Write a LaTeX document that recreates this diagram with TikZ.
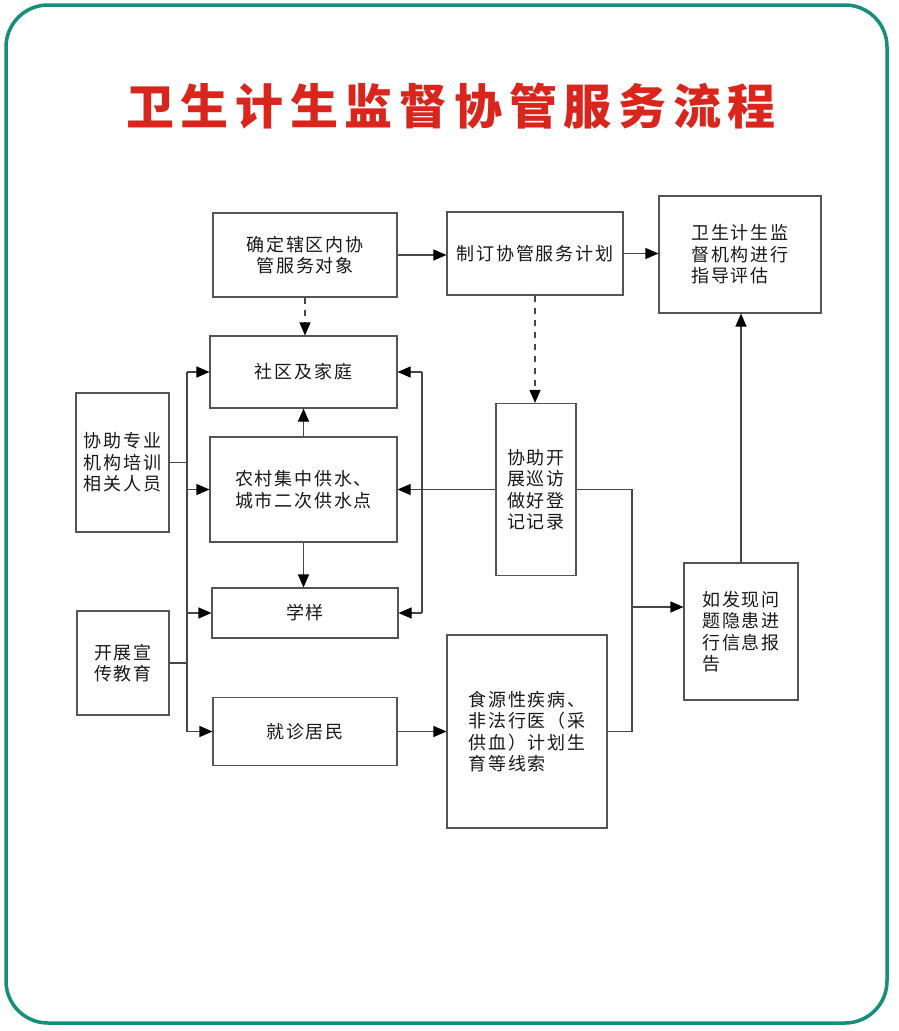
\documentclass[tikz,border=0pt]{standalone}
\usepackage{fontspec}
\usetikzlibrary{arrows.meta,calc}
\newfontfamily\cjkbody{Noto Sans CJK SC}[LetterSpace=10]
\newfontfamily\cjktitle{Noto Sans CJK SC}[LetterSpace=14]
\definecolor{frameteal}{RGB}{20,143,122}
\definecolor{titlered}{RGB}{218,37,29}
\definecolor{boxgray}{RGB}{85,85,85}
\definecolor{linegray}{RGB}{70,70,70}
\definecolor{txtgray}{RGB}{25,25,25}
\tikzset{
  box/.style={draw=boxgray, line width=1.1pt, text=txtgray, align=left, inner sep=0pt,
    font=\cjkbody\fontsize{18pt}{21.5pt}\selectfont},
  conn/.style={draw=linegray, line width=1.1pt},
  arr/.style={conn, -{Triangle[length=13pt,width=11pt,fill=black,color=black]}},
  darr/.style={arr, dash pattern=on 6pt off 6pt}
}
\begin{document}
\begin{tikzpicture}[x=1pt,y=-1pt]
\useasboundingbox (0,0) rectangle (898,1031);
\fill[white] (0,0) rectangle (898,1031);
\draw[frameteal, line width=3.5pt, rounded corners=42pt] (6,5) rectangle (887,1023);
\node[text=titlered, font=\cjktitle\bfseries\fontsize{48pt}{52pt}\selectfont] (title) at (451,106) {卫生计生监督协管服务流程};

\node[box, align=center, minimum width=184pt, minimum height=84pt] (A) at (305,255) {确定辖区内协\\管服务对象};
\node[box, minimum width=176pt, minimum height=83pt] (B) at (535,253.5) {制订协管服务计划};
\node[box, minimum width=162pt, minimum height=117pt] (C) at (740,254.5) {卫生计生监\\督机构进行\\指导评估};
\node[box, minimum width=187pt, minimum height=72pt] (D) at (303.5,372) {社区及家庭};
\node[box, minimum width=187pt, minimum height=105pt] (E) at (303.5,489.5) {农村集中供水、\\城市二次供水点};
\node[box, minimum width=186pt, minimum height=50pt] (F) at (305,613) {学样};
\node[box, minimum width=93pt, minimum height=139pt] (G) at (122.5,462.5) {协助专业\\机构培训\\相关人员};
\node[box, minimum width=92pt, minimum height=104pt] (H) at (123,663) {开展宣\\传教育};
\node[box, minimum width=184pt, minimum height=68pt] (I) at (305,731.5) {就诊居民};
\node[box, minimum width=160pt, minimum height=193pt] (J) at (527,731.5) {食源性疾病、\\非法行医（采\\供血）计划生\\育等线索};
\node[box, minimum width=114pt, minimum height=137pt] (K) at (741,631.5) {如发现问\\题隐患进\\行信息报\\告};
\node[box, minimum width=80pt, minimum height=172pt] (L) at (536,489.5) {协助开\\展巡访\\做好登\\记记录};

\coordinate (lb) at (187,0);
\coordinate (rb) at (422,0);
\coordinate (rc) at (632,0);

% top row
\draw[arr] (A.east) -- (A.east -| B.west);
\draw[arr] (B.east) -- (B.east -| C.west);
\draw[darr] (A.south) -- (A.south |- D.north);
\draw[darr] (B.south) -- (B.south |- L.north);

% middle column
\draw[arr] (E.north) -- (E.north |- D.south);
\draw[arr] (E.south) -- (E.south |- F.north);

% left bus
\draw[conn] (G.east) -- (G.east -| lb);
\draw[conn] (H.east) -- (H.east -| lb);
\draw[conn] (D.west -| lb) -- (I.west -| lb);
\draw[arr] (D.west -| lb) -- (D.west);
\draw[arr] (E.west -| lb) -- (E.west);
\draw[arr] (F.west -| lb) -- (F.west);
\draw[arr] (I.west -| lb) -- (I.west);

% right bracket
\draw[arr] (L.west) -- (E.east);
\draw[conn] (rb |- D.east) -- (rb |- F.east);
\draw[arr] (rb |- D.east) -- (D.east);
\draw[arr] (rb |- F.east) -- (F.east);

% lower right
\draw[arr] (I.east) -- (J.west);
\draw[conn] (L.east) -- (L.east -| rc) -- (J.east -| rc) -- (J.east);
\draw[arr] ([yshift=24.5pt]K.west -| rc) -- ([yshift=24.5pt]K.west);
\draw[arr] (K.north) -- (K.north |- C.south);
\end{tikzpicture}
\end{document}
